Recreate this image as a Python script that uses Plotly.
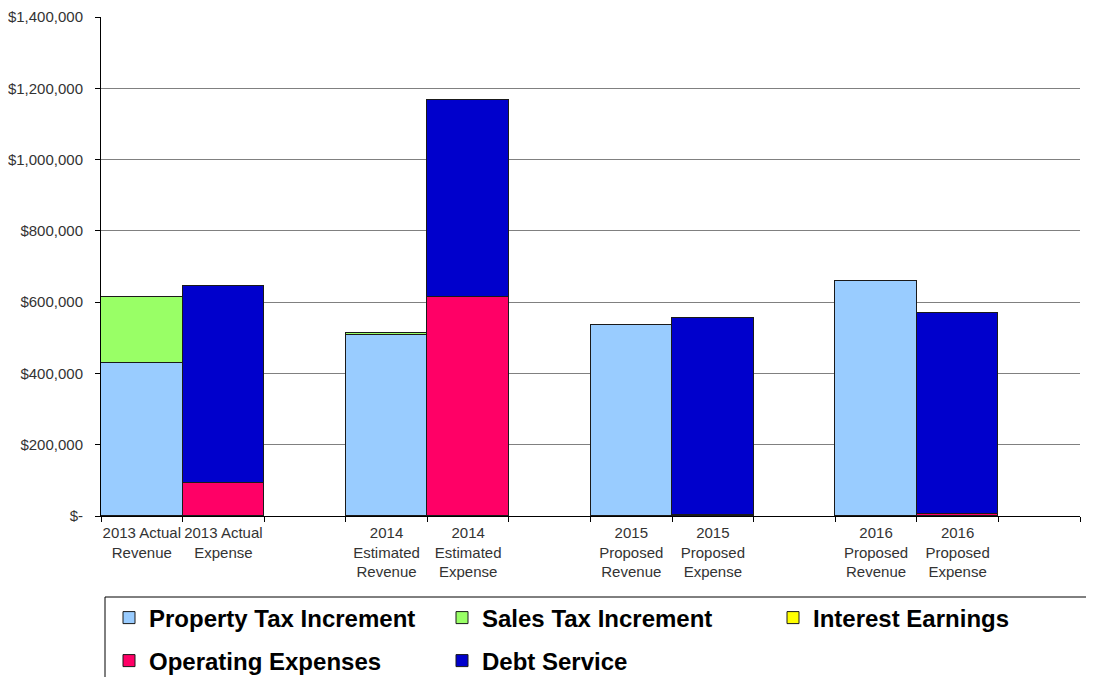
import plotly.graph_objects as go

categories = ["2013 Actual<br>Revenue", "2013 Actual<br>Expense",
              "2014<br>Estimated<br>Revenue", "2014<br>Estimated<br>Expense",
              "2015<br>Proposed<br>Revenue", "2015<br>Proposed<br>Expense",
              "2016<br>Proposed<br>Revenue", "2016<br>Proposed<br>Expense"]
# slot positions (a blank slot follows each year pair)
revenue_slots = [0, 3, 6, 9]
expense_slots = [1, 4, 7, 10]

property_tax = [429000, 508000, 536000, 659000]
sales_tax = [185000, 5000, 0, 0]
interest = [1000, 1000, 500, 500]
operating = [93000, 614000, 4000, 7000]
debt_service = [552000, 553000, 551000, 562000]

y_ticks = [0, 200000, 400000, 600000, 800000, 1000000, 1200000, 1400000]
y_labels = ["$-", "$200,000", "$400,000", "$600,000", "$800,000",
            "$1,000,000", "$1,200,000", "$1,400,000"]

# the page body adds an 8px offset, so the figure is sized to fill the rest
OFF = 8
W, H = 1094 - OFF, 677 - OFF
ml, mr, mt, mb = 101 - OFF, 14, 17 - OFF, 161
pw, ph = W - ml - mr, H - mt - mb

series = [
    ("Property Tax Increment", revenue_slots, property_tax, "#99CCFF", "legend", 101, 610),
    ("Sales Tax Increment", revenue_slots, sales_tax, "#99FF66", "legend2", 434, 610),
    ("Interest Earnings", revenue_slots, interest, "#FFFF00", "legend3", 765, 610),
    ("Operating Expenses", expense_slots, operating, "#FF0066", "legend4", 101, 653),
    ("Debt Service", expense_slots, debt_service, "#0000CC", "legend5", 434, 653),
]

fig = go.Figure()
line = dict(color="#1a1a1a", width=1)
legend_layouts = {}
for name, xs, ys, color, leg, lx, ly in series:
    fig.add_bar(x=xs, y=ys, name=name, legend=leg,
                marker=dict(color=color, line=line), width=1)
    legend_layouts[leg] = dict(
        orientation="h", xref="container", yref="container",
        x=lx / W, y=1 - ly / H, xanchor="left", yanchor="middle",
        borderwidth=0, bgcolor="rgba(0,0,0,0)",
        font=dict(family="Liberation Sans, Arial, sans-serif", size=24,
                  color="#000000", weight="bold"),
        itemwidth=30,
    )

tick_positions = []
for r, e in zip(revenue_slots, expense_slots):
    tick_positions += [r, e]

# legend frame (paper coordinates, extends past the page edge like the original)
fig.add_shape(type="rect", xref="paper", yref="paper", layer="below",
              x0=(97 - ml) / pw, x1=(1110 - ml) / pw,
              y0=1 - (700 - mt) / ph, y1=1 - (589 - mt) / ph,
              line=dict(color="#000000", width=1), fillcolor="rgba(0,0,0,0)")

fig.update_layout(
    width=W, height=H,
    margin=dict(l=ml, r=mr, t=mt, b=mb, autoexpand=False),
    barmode="stack", bargap=0,
    plot_bgcolor="white", paper_bgcolor="white",
    font=dict(family="Liberation Sans, Arial, sans-serif", size=15, color="#333333"),
    showlegend=True,
    xaxis=dict(
        range=[-0.5, 11.5], tickmode="array", tickvals=tick_positions,
        ticktext=categories, ticks="", showline=True, linecolor="#000000",
        linewidth=1, showgrid=False, zeroline=False, automargin=False,
        ticklabelstandoff=3,
        tickfont=dict(size=15, color="#333333"),
        minor=dict(tickmode="linear", tick0=-0.5, dtick=1, ticks="outside",
                   ticklen=5, tickcolor="#000000", showgrid=False),
    ),
    yaxis=dict(
        range=[0, 1400000], tickmode="array", tickvals=y_ticks, ticktext=y_labels,
        ticks="outside", ticklen=5, tickcolor="#000000", automargin=False,
        ticklabelstandoff=9,
        showline=True, linecolor="#000000", linewidth=1,
        showgrid=True, gridcolor="#808080", gridwidth=1.3, zeroline=False,
        tickfont=dict(size=15, color="#333333"),
    ),
    **legend_layouts,
)

fig.write_html("out.html")
